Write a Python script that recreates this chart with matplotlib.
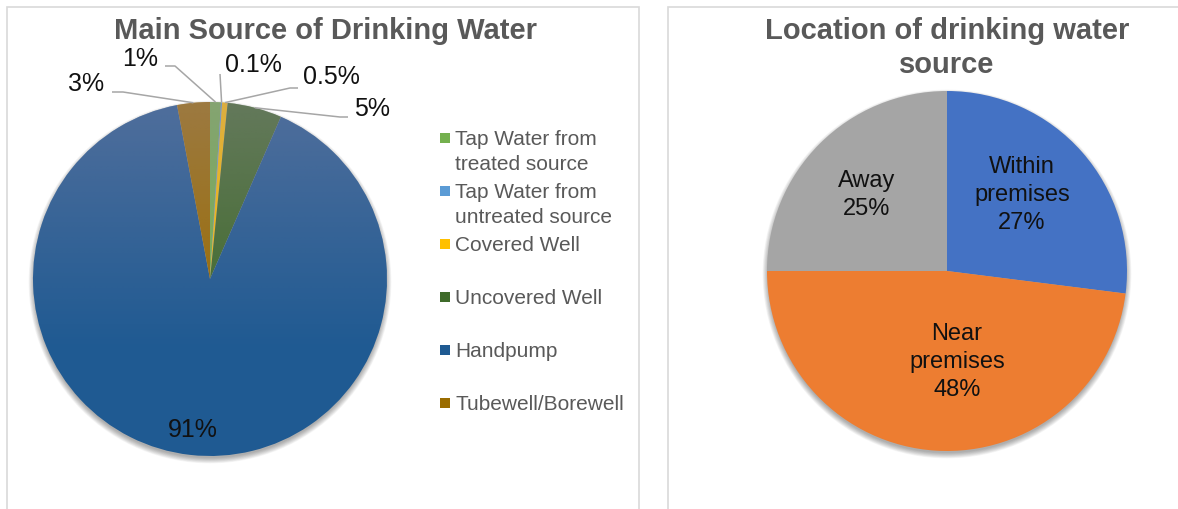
import numpy as np
import matplotlib
matplotlib.use("Agg")
import matplotlib.pyplot as plt
from matplotlib.patches import Rectangle, Circle

plt.rcParams['font.family'] = ['Liberation Sans', 'DejaVu Sans']

# Main source of drinking water (share of households, %)
source_labels = ["Tap Water from\ntreated source", "Tap Water from\nuntreated source",
                 "Covered Well", "Uncovered Well", "Handpump", "Tubewell/Borewell"]
source_values = [1, 0.1, 0.5, 5, 91, 3]
source_value_text = ["1%", "0.1%", "0.5%", "5%", "91%", "3%"]
source_colors = ["#74b04e", "#5b9bd5", "#ffc000", "#3f6b2a", "#1f5a92", "#9a6c00"]

# Location of drinking water source (share of households, %)
location_labels = ["Within\npremises", "Near\npremises", "Away"]
location_values = [27, 48, 25]
location_colors = ["#4472c4", "#ed7d31", "#a5a5a5"]

W, H = 1178, 509
fig = plt.figure(figsize=(W / 100, H / 100), dpi=100)
ax = fig.add_axes([0, 0, 1, 1])


def py(y):
    """Pixel row measured from the top -> axis y."""
    return H - y


TITLE_GREY = "#595959"
BORDER = "#d9d9d9"
LEADER = "#a6a6a6"

# chart frames
ax.add_patch(Rectangle((7, -5), 632, py(7) + 5, fill=False, ec=BORDER, lw=1.2, zorder=0))
ax.add_patch(Rectangle((668, -5), 600, py(7) + 5, fill=False, ec=BORDER, lw=1.2, zorder=0))


def soft_shadow(cx, cy, r):
    for k in range(10):
        ax.add_patch(Circle((cx, cy - 3), r - 1 + 0.6 * k, color="black",
                            alpha=0.035, lw=0, zorder=1))


# ---------------- left: main source ----------------
c1 = (210, py(279))
r1 = 177
soft_shadow(*c1, r1)
wedges1, _ = ax.pie(source_values, colors=source_colors, startangle=90,
                    counterclock=False, center=c1, radius=r1,
                    wedgeprops=dict(linewidth=0), frame=True)
for w in wedges1:
    w.set_zorder(2)

# light sheen on the top part of the pie
t = np.linspace(0, 1, 256)
sheen = np.zeros((256, 1, 4))
sheen[..., 0] = 160 / 255
sheen[..., 1] = 144 / 255
sheen[..., 2] = 172 / 255
sheen[:, 0, 3] = np.clip(0.38 * (1 - t / 0.7), 0, None)
im = ax.imshow(sheen, extent=(c1[0] - r1, c1[0] + r1, c1[1] - r1, c1[1] + r1),
               origin="upper", aspect="auto", interpolation="bilinear", zorder=3)
im.set_clip_path(Circle(c1, r1, transform=ax.transData))


def mid_point(w, frac):
    a = np.deg2rad((w.theta1 + w.theta2) / 2)
    return (w.center[0] + frac * w.r * np.cos(a), w.center[1] + frac * w.r * np.sin(a))


# outside labels: text centre, leader end, leader knee (pixel rows from top)
callouts = {
    0: ((140, 59), (165, 66), (175, 66)),
    1: ((253, 65), (220, 74), (220, 74)),
    2: ((331, 77), (298, 88), (290, 88)),
    3: ((372, 109), (348, 117), (340, 117)),
    5: ((86, 84), (112, 92), (123, 92)),
}
for i, (txt_xy, end, knee) in callouts.items():
    ax_, ay_ = mid_point(wedges1[i], 1.0)
    ax.plot([ax_, knee[0], end[0]], [ay_, py(knee[1]), py(end[1])],
            color=LEADER, lw=1.1, zorder=4, solid_capstyle="butt")
    ax.text(txt_xy[0], py(txt_xy[1]), source_value_text[i], fontsize=18,
            color="#111111", ha="center", va="center", zorder=5)

# inside label for the dominant slice
x91, y91 = mid_point(wedges1[4], 0.86)
ax.text(x91, y91, source_value_text[4], fontsize=18, color="#111111",
        ha="center", va="center", zorder=5)

ax.text(326, py(31), "Main Source of Drinking Water", fontsize=21, fontweight="bold",
        color=TITLE_GREY, ha="center", va="center")

# legend
for i, (lab, col) in enumerate(zip(source_labels, source_colors)):
    yc = 137.5 + 53.0 * i
    ax.add_patch(Rectangle((440, py(yc) - 5), 10, 10, color=col, lw=0))
    ax.text(455, py(yc - 7.5), lab, fontsize=15, color=TITLE_GREY,
            ha="left", va="top", linespacing=1.4)

# ---------------- right: location ----------------
c2 = (947, py(271))
r2 = 180
soft_shadow(*c2, r2)
wedges2, _ = ax.pie(location_values, colors=location_colors, startangle=90,
                    counterclock=False, center=c2, radius=r2,
                    wedgeprops=dict(linewidth=0), frame=True)
for w in wedges2:
    w.set_zorder(2)

location_label_pos = [(1022, 195), (957, 362), (867, 195)]
for lab, v, (lx, ly) in zip(location_labels, location_values, location_label_pos):
    ax.text(lx, py(ly), f"{lab}\n{v}%", fontsize=17, color="#111111",
            ha="center", va="center", linespacing=1.35, zorder=5)

ax.text(947, py(48), "Location of drinking water\nsource", fontsize=21,
        fontweight="bold", color=TITLE_GREY, ha="center", va="center",
        linespacing=1.25)

ax.set_xlim(0, W)
ax.set_ylim(0, H)
ax.set_aspect("auto")
ax.axis("off")

fig.savefig("out.png", dpi=100, facecolor="white")
